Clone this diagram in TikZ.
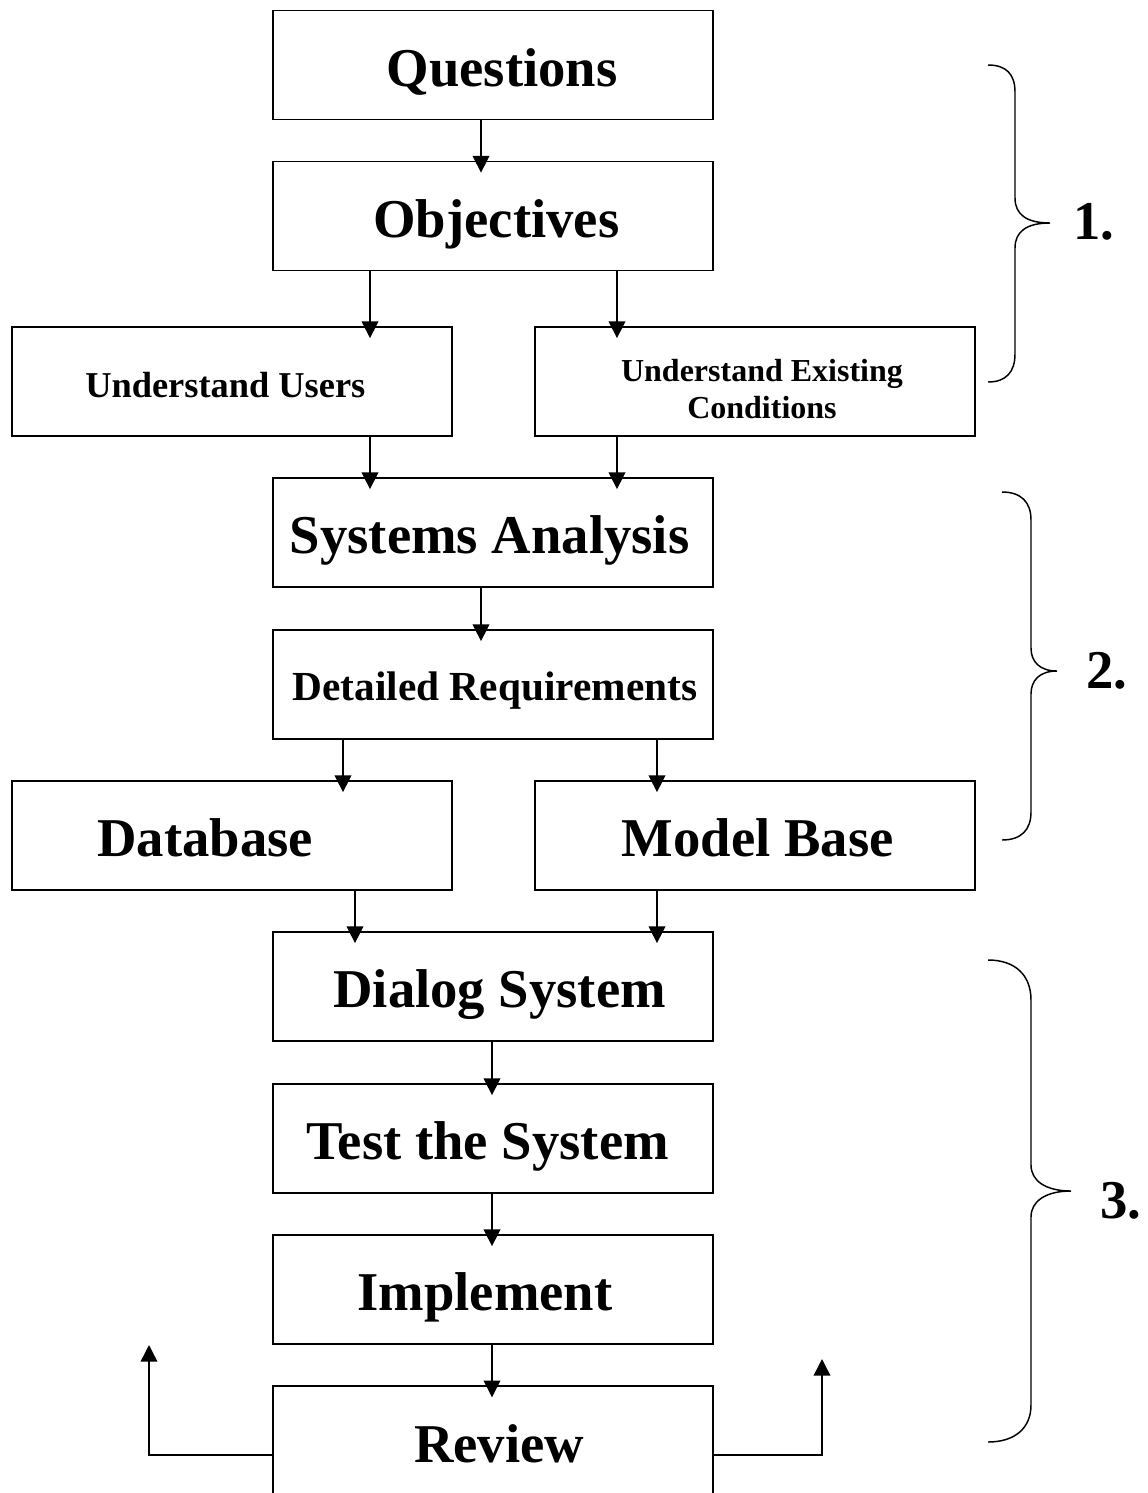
\documentclass[tikz,border=0pt]{standalone}
\usepackage{fontspec}
\setmainfont{Liberation Serif}
\usetikzlibrary{arrows.meta}
\tikzset{
  box/.style={draw, line width=1.1pt, minimum width=330pt, minimum height=82pt, inner sep=0pt, font=\bfseries\fontsize{41}{48}\selectfont},
  oneline/.style={text height=31.6pt, text depth=0pt},
  arr/.style={line width=1.1pt, -{Triangle[width=12.5pt,length=12.5pt]}, shorten >=-9pt},
  fb/.style={line width=1.1pt, -{Triangle[width=12.5pt,length=12.5pt]}},
  brace/.style={line width=1.1pt},
  lbl/.style={font=\bfseries\fontsize{41}{48}\selectfont, inner sep=0pt}
}
\begin{document}
\begin{tikzpicture}[x=0.75pt,y=-0.75pt]
\useasboundingbox (0,0) rectangle (1148,1493);
% boxes
\node[box,oneline] (q)  at (493,65)     {\hspace*{13.5pt}Questions};
\node[box,oneline] (o)  at (493,216)    {\hspace*{5pt}Objectives};
\node[box,text height=24.6pt,text depth=0pt, font=\bfseries\fontsize{27.3}{32}\selectfont] (uu) at (232,381.5) {\hspace*{-10pt}Understand Users};
\node[box] (ue) at (755,381.5) {};
\node[inner sep=0pt, align=center, font=\bfseries\fontsize{24}{27.75}\selectfont] (uet) at (762,389.5) {Understand Existing\\Conditions};
\node[box,oneline] (sa) at (493,532.5)  {\hspace*{-5pt}Systems Analysis};
\node[box,text height=23.9pt,text depth=0pt, font=\bfseries\fontsize{31}{36}\selectfont] (dr) at (493,684.5) {\hspace*{3pt}Detailed Requirements};
\node[box,oneline] (db) at (232,835.5)  {\hspace*{-40pt}Database};
\node[box,oneline] (mb) at (755,835.5)  {\hspace*{4pt}Model Base};
\node[box,oneline] (ds) at (493,986.5)  {\hspace*{10pt}Dialog System};
\node[box,oneline] (ts) at (493,1138.5) {\hspace*{-8pt}Test the System};
\node[box,oneline] (im) at (493,1289.5) {\hspace*{-12pt}Implement};
\node[box, minimum height=90pt] (rv) at (493,1446) {};
\node[lbl] (rvt) at (499,1444) {Review};
% connectors
\draw[arr] (q.south -| 481,0) -- (o.north -| 481,0);
\draw[arr] (o.south -| 370,0) -- (uu.north -| 370,0);
\draw[arr] (o.south -| 617,0) -- (ue.north -| 617,0);
\draw[arr] (uu.south -| 370,0) -- (sa.north -| 370,0);
\draw[arr] (ue.south -| 617,0) -- (sa.north -| 617,0);
\draw[arr] (sa.south -| 481,0) -- (dr.north -| 481,0);
\draw[arr] (dr.south -| 343,0) -- (db.north -| 343,0);
\draw[arr] (dr.south -| 657,0) -- (mb.north -| 657,0);
\draw[arr] (db.south -| 355,0) -- (ds.north -| 355,0);
\draw[arr] (mb.south -| 657,0) -- (ds.north -| 657,0);
\draw[arr] (ds.south -| 492,0) -- (ts.north -| 492,0);
\draw[arr] (ts.south -| 492,0) -- (im.north -| 492,0);
\draw[arr] (im.south -| 492,0) -- (rv.north -| 492,0);
% feedback arrows
\coordinate (fl) at (149,1345);
\coordinate (fr) at (822,1359);
\draw[fb] (rv.west |- 0,1455) -| (fl);
\draw[fb] (rv.east |- 0,1455) -| (fr);
% braces
\draw[brace] (988,65) .. controls (1006,65) and (1015,74) .. (1015,92) -- (1015,198)
  .. controls (1015,214) and (1026,223) .. (1050,223)
  .. controls (1026,223) and (1015,232) .. (1015,248) -- (1015,354)
  .. controls (1015,372) and (1006,382) .. (988,382);
\draw[brace] (1002,492) .. controls (1021,492) and (1031,502) .. (1031,520) -- (1031,648)
  .. controls (1031,662) and (1040,671) .. (1057,671)
  .. controls (1040,671) and (1031,680) .. (1031,694) -- (1031,812)
  .. controls (1031,830) and (1021,840) .. (1002,840);
\draw[brace] (988,960) .. controls (1015,960) and (1031,975) .. (1031,1000) -- (1031,1165)
  .. controls (1031,1181) and (1046,1191) .. (1071,1191)
  .. controls (1046,1191) and (1031,1201) .. (1031,1217) -- (1031,1405)
  .. controls (1031,1428) and (1015,1442) .. (988,1442);
% labels
\node[lbl] (l1) at (1094,222) {1.};
\node[lbl] (l2) at (1107,671) {2.};
\node[lbl] (l3) at (1121,1201) {3.};
\end{tikzpicture}
\end{document}
